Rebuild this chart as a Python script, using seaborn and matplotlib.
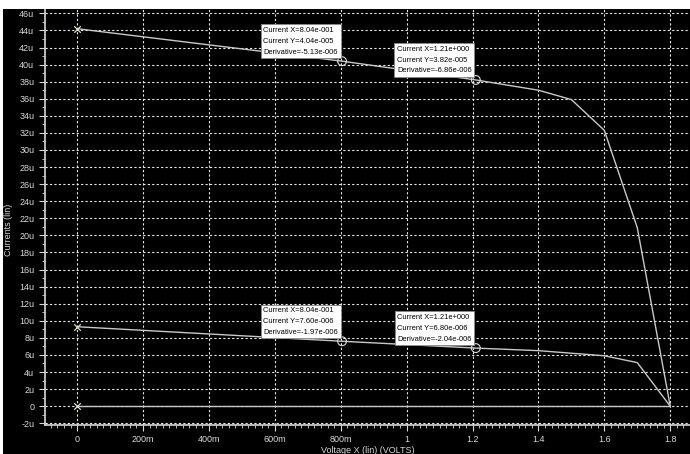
import pandas as pd
import matplotlib.pyplot as plt
import seaborn as sns
from matplotlib.ticker import FixedLocator, MultipleLocator

# curve data (volts, microamps)
volts_top = [0, 0.804, 1.21, 1.4, 1.5, 1.6, 1.7, 1.8]
amps_top = [44.2, 40.4, 38.2, 37.0, 35.9, 32.3, 20.9, 0]
volts_mid = [0, 0.804, 1.21, 1.4, 1.5, 1.6, 1.7, 1.8]
amps_mid = [9.3, 7.6, 6.8, 6.5, 6.2, 5.9, 5.1, 0]
volts_low = [0, 1.8]
amps_low = [0.05, 0.05]

# cursor readouts
cursor_x = [0.804, 1.21, 0.804, 1.21]
cursor_y = [40.4, 38.2, 7.6, 6.8]
cursor_text = ["Current X=8.04e-001\nCurrent Y=4.04e-005\nDerivative=-5.13e-006",
               "Current X=1.21e+000\nCurrent Y=3.82e-005\nDerivative=-6.86e-006",
               "Current X=8.04e-001\nCurrent Y=7.60e-006\nDerivative=-1.97e-006",
               "Current X=1.21e+000\nCurrent Y=6.80e-006\nDerivative=-2.04e-006"]

x_ticks = [0, 0.2, 0.4, 0.6, 0.8, 1.0, 1.2, 1.4, 1.6, 1.8]
x_labels = ["0", "200m", "400m", "600m", "800m", "1", "1.2", "1.4", "1.6", "1.8"]
y_ticks = list(range(-2, 47, 2))
y_labels = [("0" if v == 0 else f"{v}u") for v in y_ticks]

sns.set_style("dark")
plt.rcParams['font.family'] = ['Liberation Sans Narrow', 'Liberation Sans', 'DejaVu Sans']

fig = plt.figure(figsize=(6.9, 4.54), dpi=100, facecolor='black')
# white strips at the top and left edge of the screenshot
fig.patches.append(plt.Rectangle((0, 0.981), 1, 0.02, transform=fig.transFigure,
                                 facecolor='white', edgecolor='none'))
fig.patches.append(plt.Rectangle((0, 0), 0.004, 1, transform=fig.transFigure,
                                 facecolor='white', edgecolor='none'))
ax = fig.add_axes([0.065, 0.064, 0.935, 0.916])
ax.set_facecolor('black')

line_col = '#c8c8c8'
top_df = pd.DataFrame({'v': volts_top, 'i': amps_top})
mid_df = pd.DataFrame({'v': volts_mid, 'i': amps_mid})
low_df = pd.DataFrame({'v': volts_low, 'i': amps_low})
for df in [top_df, mid_df, low_df]:
    sns.lineplot(data=df, x='v', y='i', ax=ax, color=line_col, linewidth=1, zorder=3)
    ax.scatter(df['v'].iloc[:1], df['i'].iloc[:1], marker='x', s=22, color='#e0e0c8',
               linewidths=0.9, zorder=4)

# cursors
ax.scatter(cursor_x, cursor_y, s=40, facecolors='none', edgecolors='#dddddd',
           linewidths=0.8, zorder=5)
for cx, cy, txt in zip(cursor_x, cursor_y, cursor_text):
    ax.annotate(txt, xy=(cx, cy), xytext=(-3, 4), textcoords='offset points',
                ha='right', va='bottom', multialignment='left', fontsize=5.4,
                color='black', linespacing=1.75,
                bbox=dict(boxstyle='square,pad=0.35', facecolor='white', edgecolor='#888888', lw=0.6),
                zorder=6)

ax.set_xlim(-0.098, 1.86)
ax.set_ylim(-2.2, 46.5)
ax.xaxis.set_major_locator(FixedLocator(x_ticks))
ax.set_xticklabels(x_labels)
ax.xaxis.set_minor_locator(MultipleLocator(0.02))
ax.yaxis.set_major_locator(FixedLocator(y_ticks))
ax.set_yticklabels(y_labels)
ax.yaxis.set_minor_locator(MultipleLocator(1))

ax.grid(True, which='major', color='#e8e8e8', linestyle=(0, (2, 2)), linewidth=0.8)
ax.tick_params(axis='both', which='major', colors='#d8d8d8', labelcolor='#d8d8d8',
               labelsize=6.5, length=4, width=0.8, direction='out', bottom=True, left=True)
ax.tick_params(axis='both', which='minor', colors='#d8d8d8', length=2.5, width=0.6,
               direction='out', bottom=True, left=True)
for side in ['left', 'bottom']:
    ax.spines[side].set_color('#d8d8d8')
    ax.spines[side].set_linewidth(1.2)
    ax.spines[side].set_visible(True)
for side in ['top', 'right']:
    ax.spines[side].set_visible(False)

ax.set_xlabel('Voltage X (lin) (VOLTS)', color='#d8d8d8', fontsize=6.5, labelpad=1)
ax.set_ylabel('Currents (lin)', color='#d8d8d8', fontsize=6.5)
ax.yaxis.set_label_coords(-0.05, 0.47)

fig.savefig('out.png', dpi=100, facecolor=fig.get_facecolor())
